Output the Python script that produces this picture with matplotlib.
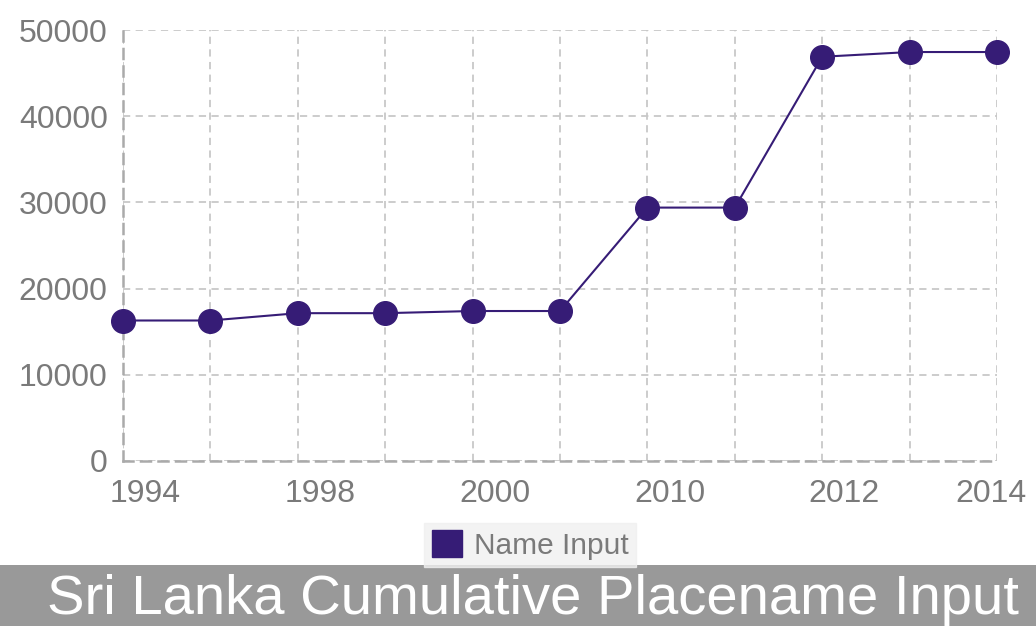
import matplotlib.pyplot as plt
from matplotlib.patches import Patch, Rectangle
from matplotlib.transforms import ScaledTranslation

plt.rcParams['font.family'] = ['Liberation Sans', 'DejaVu Sans']

# categories (only every other one is labelled in the original)
years = ["1994", "1996", "1998", "1999", "2000", "2001",
         "2010", "2011", "2012", "2013", "2014"]
name_input = [16300, 16300, 17150, 17150, 17400, 17400,
              29400, 29400, 46900, 47450, 47450]
y_ticks = [0, 10000, 20000, 30000, 40000, 50000]

purple = "#361c76"
grey_txt = "#7a7a7a"

fig = plt.figure(figsize=(10.36, 6.26), dpi=100)
ax = fig.add_axes([0.1187, 0.2636, 0.8437, 0.6884])

x = list(range(len(years)))
ax.plot(x, name_input, color=purple, linewidth=1.5, marker="o",
        markersize=17, markerfacecolor=purple, markeredgecolor=purple,
        clip_on=False, zorder=5)

ax.set_xlim(0, len(years) - 1)
ax.set_ylim(0, 50000)
ax.set_xticks(x)
ax.set_xticklabels([y if i % 2 == 0 else "" for i, y in enumerate(years)])
ax.set_yticks(y_ticks)

ax.grid(True, color="#c8c8c8", linestyle=(0, (4, 3)), linewidth=1.3)
for s in ["top", "right"]:
    ax.spines[s].set_visible(False)
for s in ["left", "bottom"]:
    ax.spines[s].set_color("#aaaaaa")
    ax.spines[s].set_linestyle((0, (4, 3)))
    ax.spines[s].set_linewidth(1.8)

ax.tick_params(length=0, labelsize=23, labelcolor=grey_txt)
ax.tick_params(axis="y", pad=11)
ax.tick_params(axis="x", pad=13)

# x labels sit a bit to the right of their ticks, last one pulled inside
xlabs = ax.get_xticklabels()
for i, lab in enumerate(xlabs):
    dx = 16 if i < len(xlabs) - 1 else -4
    lab.set_transform(lab.get_transform() + ScaledTranslation(dx / 72, 0, fig.dpi_scale_trans))

# legend
handle = Patch(facecolor=purple, edgecolor=purple, label="Name Input")
leg = fig.legend(handles=[handle], loc="center", bbox_to_anchor=(0.5116, 0.1294),
                 fontsize=21.5, frameon=True, fancybox=False, handlelength=1.0,
                 handleheight=1.0, handletextpad=0.4, borderpad=0.25,
                 borderaxespad=0)
leg.get_frame().set_facecolor("#f0f0f0")
leg.get_frame().set_edgecolor("#f0f0f0")
for t in leg.get_texts():
    t.set_color(grey_txt)

# title bar
fig.patches.append(Rectangle((0, 0), 1, 61 / 626, transform=fig.transFigure,
                             facecolor="#999999", edgecolor="none", zorder=0))
fig.text(0.514, 26 / 626, "Sri Lanka Cumulative Placename Input",
         color="white", fontsize=40.5, ha="center", va="center")

fig.savefig("out.png", dpi=100)
